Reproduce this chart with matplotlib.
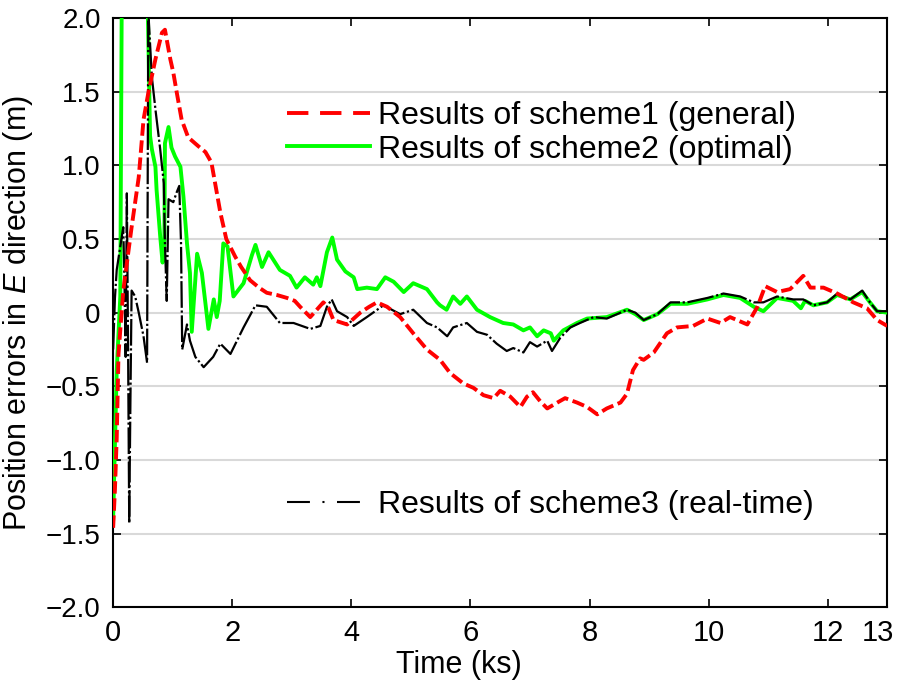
import matplotlib
matplotlib.use('Agg')
import matplotlib.pyplot as plt
from matplotlib.lines import Line2D
from matplotlib.transforms import offset_copy

plt.rcParams['font.family'] = ['Liberation Sans', 'DejaVu Sans']
plt.rcParams['mathtext.fontset'] = 'custom'
plt.rcParams['mathtext.it'] = 'Liberation Sans:italic'

# scheme1 (general), red dashed
t1 = [0, 0.03, 0.06, 0.09, 0.17, 0.31, 0.43, 0.51, 0.59, 0.71, 0.82, 0.87, 0.96, 1.01,
      1.07, 1.15, 1.26, 1.43, 1.55, 1.65, 1.80, 1.90, 2.05, 2.15, 2.30, 2.45, 2.58, 2.75,
      2.92, 3.05, 3.14, 3.31, 3.42, 3.53, 3.62, 3.70, 3.93, 4.15, 4.30, 4.43, 4.60, 4.82,
      5.04, 5.27, 5.49, 5.66, 5.88, 6.05, 6.22, 6.39, 6.50, 6.67, 6.84, 6.95, 7.05, 7.17,
      7.29, 7.46, 7.59, 7.79, 7.96, 8.13, 8.29, 8.52, 8.63, 8.73, 8.85, 8.91, 9.08, 9.30,
      9.47, 9.74, 9.98, 10.2, 10.36, 10.65, 10.82, 10.95, 11.15, 11.37, 11.59, 11.71, 11.93,
      12.16, 12.43, 12.66, 12.83, 13.0]
e1 = [-1.46, -1.2, -0.85, -0.28, 0.15, 0.58, 0.92, 1.31, 1.49, 1.72, 1.90, 1.92, 1.72, 1.63,
      1.49, 1.31, 1.19, 1.13, 1.09, 1.02, 0.68, 0.50, 0.38, 0.31, 0.22, 0.17, 0.135, 0.12,
      0.10, 0.08, 0.04, -0.03, 0.02, 0.07, 0.03, -0.05, -0.08, 0.0, 0.04, 0.07, 0.04, -0.03,
      -0.14, -0.25, -0.32, -0.41, -0.48, -0.51, -0.56, -0.58, -0.53, -0.57, -0.64, -0.57, -0.54, -0.60,
      -0.65, -0.61, -0.58, -0.61, -0.64, -0.69, -0.65, -0.61, -0.55, -0.39, -0.31, -0.32, -0.27, -0.14,
      -0.10, -0.09, -0.04, -0.07, -0.03, -0.08, 0.04, 0.18, 0.14, 0.16, 0.25, 0.17, 0.17,
      0.13, 0.07, 0.03, -0.05, -0.09]

# scheme2 (optimal), green solid
t2 = [0, 0.06, 0.12, 0.15, 0.55, 0.58, 0.62, 0.65, 0.71, 0.73, 0.79, 0.83, 0.86, 0.87,
      0.93, 0.98, 1.04, 1.13, 1.18, 1.24, 1.29, 1.32, 1.41, 1.49, 1.60, 1.69, 1.74, 1.79,
      1.85, 1.92, 2.02, 2.19, 2.33, 2.39, 2.50, 2.61, 2.80, 2.97, 3.08, 3.22, 3.36, 3.42,
      3.48, 3.59, 3.68, 3.76, 3.90, 4.04, 4.10, 4.26, 4.43, 4.57, 4.71, 4.88, 5.04, 5.27,
      5.44, 5.49, 5.60, 5.71, 5.83, 5.94, 6.11, 6.33, 6.55, 6.72, 6.89, 7.00, 7.12, 7.23,
      7.35, 7.40, 7.56, 7.79, 7.96, 8.29, 8.63, 8.77, 8.91, 9.14, 9.36, 9.64, 9.98, 10.25,
      10.53, 10.76, 10.92, 11.15, 11.42, 11.55, 11.62, 11.76, 11.99, 12.16, 12.38, 12.58,
      12.71, 12.83, 13.0]
e2 = [-1.4, -0.39, 0.11, 2.6, 2.6, 2.1, 1.20, 1.11, 0.99, 0.83, 0.52, 0.34, 0.47, 1.15,
      1.26, 1.12, 1.06, 0.99, 0.79, 0.47, 0.27, -0.13, 0.40, 0.27, -0.11, 0.09, -0.03, 0.08,
      0.47, 0.45, 0.11, 0.20, 0.39, 0.46, 0.31, 0.41, 0.29, 0.25, 0.17, 0.24, 0.19, 0.24,
      0.18, 0.41, 0.51, 0.36, 0.28, 0.24, 0.16, 0.17, 0.16, 0.24, 0.21, 0.14, 0.20, 0.16,
      0.07, 0.05, 0.02, 0.11, 0.06, 0.11, 0.02, -0.03, -0.07, -0.08, -0.12, -0.10, -0.16, -0.12,
      -0.14, -0.19, -0.12, -0.07, -0.04, -0.03, 0.02, -0.01, -0.05, -0.01, 0.06, 0.06, 0.09, 0.12,
      0.10, 0.04, 0.01, 0.10, 0.08, 0.03, 0.08, 0.05, 0.07, 0.12, 0.09, 0.14, 0.07,
      0.01, 0.0]

# scheme3 (real-time), black dash-dot
t3 = [0, 0.03, 0.06, 0.12, 0.17, 0.19, 0.21, 0.23, 0.25, 0.27, 0.29, 0.31, 0.37, 0.43,
      0.51, 0.57, 0.59, 0.65, 0.71, 0.79, 0.85, 0.87, 0.90, 0.93, 1.01, 1.07, 1.11, 1.14,
      1.16, 1.24, 1.29, 1.38, 1.52, 1.68, 1.80, 1.97, 2.19, 2.39, 2.58, 2.80, 3.03, 3.31,
      3.48, 3.59, 3.67, 3.76, 3.93, 4.04, 4.26, 4.54, 4.82, 5.04, 5.27, 5.44, 5.61, 5.71,
      5.94, 6.11, 6.28, 6.44, 6.61, 6.72, 6.89, 7.00, 7.12, 7.29, 7.37, 7.51, 7.68, 7.84,
      8.07, 8.29, 8.52, 8.63, 8.77, 8.91, 9.14, 9.36, 9.64, 9.98, 10.25, 10.53, 10.76, 10.92,
      11.15, 11.42, 11.59, 11.76, 11.99, 12.16, 12.38, 12.58, 12.71, 12.83, 13.0]
e3 = [-0.25, 0.1, 0.29, 0.45, 0.58, 0.2, -0.3, 0.81, -0.2, -1.43, -0.6, 0.15, 0.11, 0.0,
      -0.16, -0.34, 2.05, 1.60, 1.38, 1.11, 0.88, 0.47, 0.08, 0.77, 0.75, 0.82, 0.86, 0.47,
      -0.25, -0.08, -0.19, -0.30, -0.37, -0.30, -0.21, -0.28, -0.10, 0.05, 0.04, -0.07, -0.07, -0.11,
      -0.09, 0.04, 0.09, 0.01, -0.03, -0.09, -0.03, 0.05, -0.01, 0.02, -0.07, -0.10, -0.16, -0.10,
      -0.07, -0.13, -0.15, -0.21, -0.26, -0.24, -0.27, -0.20, -0.23, -0.19, -0.26, -0.17, -0.10, -0.07,
      -0.03, -0.04, 0.0, 0.02, 0.0, -0.05, -0.01, 0.07, 0.07, 0.10, 0.13, 0.11, 0.07, 0.07,
      0.11, 0.09, 0.09, 0.05, 0.07, 0.13, 0.09, 0.15, 0.07, 0.01, 0.01]

labels = ['Results of scheme1 (general)', 'Results of scheme2 (optimal)',
          'Results of scheme3 (real-time)']
xticks = [0, 2, 4, 6, 8, 10, 12, 13]
yticks = [-2.0, -1.5, -1.0, -0.5, 0, 0.5, 1.0, 1.5, 2.0]
ytick_labels = ['\u22122.0', '\u22121.5', '\u22121.0', '\u22120.5', '0', '0.5', '1.0', '1.5', '2.0']

fig = plt.figure(figsize=(8.98, 6.91), dpi=100)
ax = fig.add_axes([0.126, 0.121, 0.862, 0.853])

ax.plot(t2, e2, color='#00ff00', lw=2.8, zorder=3)
ax.plot(t3, e3, color='black', lw=1.6, dashes=(12, 1.2, 1, 1.2), zorder=4)
ax.plot(t1, e1, color='#ff0000', lw=2.8, dashes=(3.2, 1.2), zorder=5)

ax.set_xlim(0, 13)
ax.set_ylim(-2, 2)
ax.set_xticks(xticks)
ax.set_yticks(yticks)
ax.set_yticklabels(ytick_labels)
ax.grid(axis='y', color='#d9d9d9', lw=1.5)
ax.set_axisbelow(True)
ax.tick_params(direction='in', top=True, right=True, length=6, width=1.2, labelsize=20)
ax.tick_params(axis='y', pad=9)
ax.tick_params(axis='x', pad=8, labelsize=21)
for sp in ax.spines.values():
    sp.set_linewidth(1.5)

# the last tick label sits a little to the left so it stays inside the figure
fig.canvas.draw()
last = ax.get_xticklabels()[-1]
last.set_horizontalalignment('right')
last.set_transform(offset_copy(last.get_transform(), fig=fig, x=7, units='dots'))

ax.set_xlabel('Time (ks)', fontsize=22)
ax.xaxis.set_label_coords(0.447, -0.072, transform=ax.transAxes)
ax.xaxis.label.set_verticalalignment('top')
ax.set_ylabel('Position errors in $E$ direction (m)', fontsize=22, labelpad=8)

h1 = Line2D([], [], color='#ff0000', lw=2.8, dashes=(5.5, 3))
h2 = Line2D([], [], color='#00ff00', lw=2.8)
h3 = Line2D([], [], color='black', lw=1.5, dashes=(11, 6, 1, 6))
leg1 = ax.legend([h1, h2], labels[:2], loc='center left', bbox_to_anchor=(0.224, 0.805),
                 frameon=False, fontsize=23, handlelength=2.6, handletextpad=0.25,
                 labelspacing=0.1, borderpad=0, borderaxespad=0)
ax.add_artist(leg1)
ax.legend([h3], labels[2:], loc='center left', bbox_to_anchor=(0.224, 0.173),
          frameon=False, fontsize=23, handlelength=2.6, handletextpad=0.25,
          borderpad=0, borderaxespad=0)

plt.savefig('out.png', dpi=100)
